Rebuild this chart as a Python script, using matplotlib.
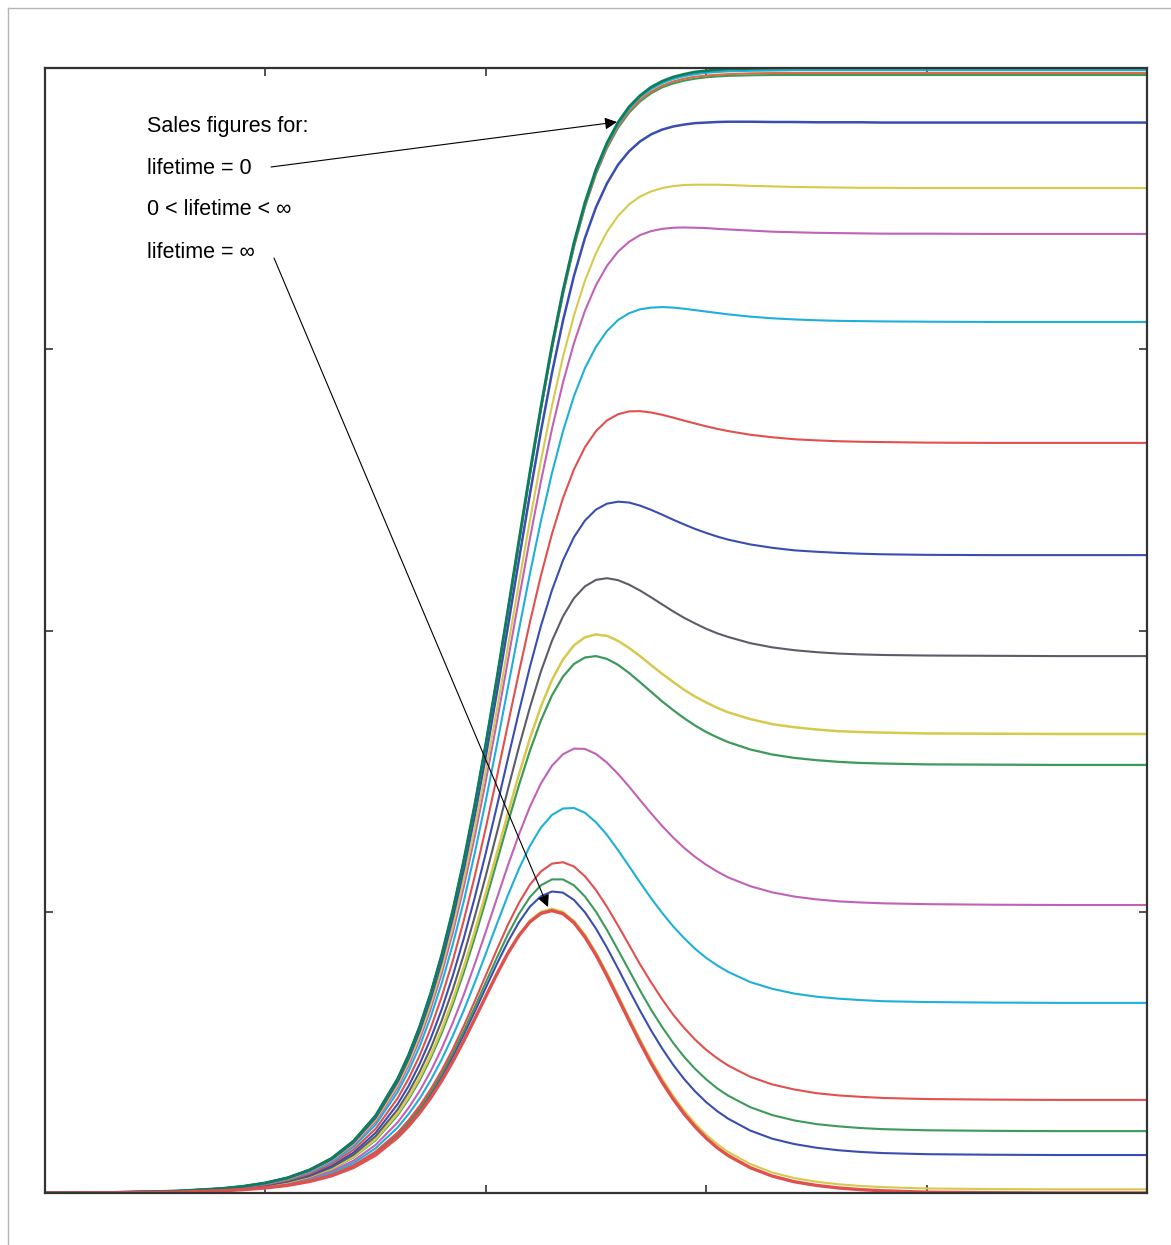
import matplotlib
matplotlib.use("Agg")
import matplotlib.pyplot as plt
from matplotlib.lines import Line2D

# time axis (arbitrary units, no tick labels in the original)
time = [0, 3, 6, 8, 9, 10, 11, 12, 13, 14, 15, 16, 16.5, 17, 17.5, 18, 18.5, 19, 19.5, 20,
        20.5, 21, 21.5, 22, 22.5, 23, 23.5, 24, 24.5, 25, 25.5, 26, 26.5, 27, 27.5, 28, 28.5,
        29, 29.5, 30, 30.5, 31, 32, 33, 34, 35, 36, 37, 38, 40, 43, 46, 50]

# lifetime = infinity (first purchases only)
life_inf = [0.000, 0.001, 0.003, 0.008, 0.012, 0.018, 0.027, 0.041, 0.061, 0.091, 0.135, 0.198, 0.238, 0.285, 0.338, 0.399, 0.467, 0.541,
            0.619, 0.699, 0.778, 0.852, 0.915, 0.964, 0.994, 1.004, 0.993, 0.961, 0.910, 0.846, 0.772, 0.693, 0.613, 0.535, 0.461, 0.394,
            0.334, 0.281, 0.235, 0.195, 0.161, 0.133, 0.090, 0.060, 0.040, 0.027, 0.018, 0.012, 0.008, 0.003, 0.001, 0.000, 0.000]

# 0 < lifetime < infinity, from long to short lifetimes
life_y0 = [0.000, 0.001, 0.003, 0.008, 0.012, 0.018, 0.027, 0.041, 0.061, 0.092, 0.136, 0.199, 0.239, 0.286, 0.340, 0.401, 0.469, 0.543,
           0.622, 0.702, 0.782, 0.856, 0.919, 0.969, 1.000, 1.011, 1.000, 0.968, 0.919, 0.855, 0.782, 0.703, 0.623, 0.546, 0.473, 0.406,
           0.346, 0.293, 0.247, 0.207, 0.174, 0.146, 0.103, 0.073, 0.053, 0.040, 0.031, 0.025, 0.021, 0.016, 0.014, 0.013, 0.013]
life_b1 = [0.000, 0.001, 0.004, 0.008, 0.012, 0.019, 0.028, 0.042, 0.063, 0.095, 0.140, 0.205, 0.247, 0.295, 0.351, 0.414, 0.485, 0.563,
           0.645, 0.730, 0.814, 0.893, 0.962, 1.018, 1.055, 1.072, 1.068, 1.042, 0.998, 0.940, 0.872, 0.798, 0.722, 0.648, 0.578, 0.514,
           0.456, 0.405, 0.361, 0.323, 0.291, 0.264, 0.222, 0.193, 0.174, 0.161, 0.152, 0.146, 0.142, 0.138, 0.136, 0.135, 0.135]
life_g1 = [0.000, 0.001, 0.004, 0.008, 0.013, 0.019, 0.029, 0.043, 0.065, 0.097, 0.143, 0.209, 0.252, 0.301, 0.359, 0.424, 0.497, 0.576,
           0.661, 0.749, 0.836, 0.919, 0.992, 1.052, 1.094, 1.115, 1.115, 1.094, 1.054, 1.000, 0.935, 0.864, 0.792, 0.720, 0.652, 0.590,
           0.534, 0.484, 0.441, 0.404, 0.372, 0.346, 0.305, 0.277, 0.258, 0.245, 0.237, 0.231, 0.227, 0.223, 0.221, 0.220, 0.220]
life_r1 = [0.000, 0.001, 0.004, 0.009, 0.013, 0.019, 0.029, 0.044, 0.066, 0.099, 0.147, 0.215, 0.259, 0.310, 0.369, 0.436, 0.511, 0.594,
           0.682, 0.774, 0.865, 0.953, 1.031, 1.096, 1.143, 1.171, 1.176, 1.161, 1.126, 1.077, 1.017, 0.951, 0.882, 0.813, 0.749, 0.689,
           0.634, 0.587, 0.545, 0.509, 0.479, 0.453, 0.413, 0.386, 0.368, 0.355, 0.347, 0.342, 0.338, 0.334, 0.332, 0.331, 0.331]
life_c1 = [0.000, 0.001, 0.004, 0.009, 0.014, 0.021, 0.032, 0.048, 0.072, 0.107, 0.159, 0.233, 0.281, 0.336, 0.401, 0.475, 0.558, 0.649,
           0.748, 0.851, 0.956, 1.058, 1.152, 1.234, 1.299, 1.344, 1.367, 1.369, 1.352, 1.318, 1.273, 1.219, 1.162, 1.104, 1.048, 0.996,
           0.948, 0.906, 0.868, 0.836, 0.809, 0.786, 0.750, 0.726, 0.709, 0.698, 0.691, 0.686, 0.682, 0.679, 0.677, 0.676, 0.676]
life_m1 = [0.000, 0.001, 0.004, 0.010, 0.015, 0.023, 0.034, 0.051, 0.077, 0.115, 0.171, 0.251, 0.303, 0.363, 0.433, 0.514, 0.605, 0.705,
           0.814, 0.929, 1.047, 1.164, 1.274, 1.373, 1.456, 1.519, 1.560, 1.580, 1.579, 1.561, 1.530, 1.490, 1.445, 1.397, 1.350, 1.305,
           1.264, 1.227, 1.195, 1.167, 1.143, 1.122, 1.091, 1.069, 1.054, 1.044, 1.037, 1.033, 1.030, 1.027, 1.025, 1.024, 1.024]
life_g2 = [0.000, 0.001, 0.005, 0.011, 0.016, 0.025, 0.037, 0.056, 0.085, 0.127, 0.188, 0.277, 0.334, 0.401, 0.480, 0.569, 0.671, 0.785,
           0.909, 1.041, 1.178, 1.316, 1.449, 1.572, 1.680, 1.769, 1.836, 1.881, 1.904, 1.909, 1.899, 1.878, 1.849, 1.816, 1.782, 1.748,
           1.717, 1.688, 1.662, 1.639, 1.620, 1.603, 1.577, 1.559, 1.547, 1.539, 1.533, 1.529, 1.527, 1.524, 1.523, 1.522, 1.522]
life_y2 = [0.000, 0.001, 0.005, 0.011, 0.017, 0.025, 0.038, 0.058, 0.087, 0.129, 0.192, 0.283, 0.341, 0.410, 0.490, 0.582, 0.686, 0.803,
           0.930, 1.066, 1.207, 1.349, 1.487, 1.616, 1.729, 1.824, 1.897, 1.947, 1.976, 1.986, 1.981, 1.963, 1.938, 1.909, 1.877, 1.846,
           1.817, 1.789, 1.765, 1.744, 1.725, 1.709, 1.685, 1.667, 1.656, 1.648, 1.642, 1.639, 1.637, 1.634, 1.633, 1.632, 1.632]
life_k2 = [0.000, 0.001, 0.005, 0.012, 0.018, 0.027, 0.040, 0.060, 0.091, 0.136, 0.202, 0.297, 0.359, 0.431, 0.515, 0.613, 0.723, 0.847,
           0.983, 1.128, 1.280, 1.434, 1.585, 1.726, 1.854, 1.963, 2.050, 2.115, 2.157, 2.180, 2.186, 2.179, 2.163, 2.142, 2.118, 2.093,
           2.068, 2.045, 2.025, 2.006, 1.990, 1.977, 1.955, 1.940, 1.930, 1.923, 1.918, 1.915, 1.913, 1.911, 1.910, 1.909, 1.909]
life_b2 = [0.000, 0.002, 0.005, 0.012, 0.019, 0.028, 0.043, 0.064, 0.096, 0.144, 0.214, 0.316, 0.381, 0.459, 0.549, 0.653, 0.772, 0.905,
           1.051, 1.209, 1.374, 1.543, 1.710, 1.870, 2.016, 2.143, 2.249, 2.332, 2.391, 2.430, 2.451, 2.458, 2.455, 2.444, 2.429, 2.412,
           2.394, 2.377, 2.361, 2.347, 2.334, 2.323, 2.306, 2.294, 2.285, 2.280, 2.276, 2.273, 2.271, 2.269, 2.268, 2.268, 2.268]
life_r2 = [0.000, 0.002, 0.006, 0.013, 0.020, 0.030, 0.045, 0.068, 0.103, 0.154, 0.228, 0.337, 0.407, 0.489, 0.586, 0.698, 0.825, 0.969,
           1.127, 1.298, 1.479, 1.665, 1.850, 2.029, 2.195, 2.343, 2.470, 2.573, 2.652, 2.709, 2.747, 2.769, 2.779, 2.780, 2.775, 2.767,
           2.757, 2.746, 2.736, 2.726, 2.717, 2.709, 2.696, 2.687, 2.680, 2.676, 2.673, 2.671, 2.670, 2.668, 2.667, 2.667, 2.667]
life_c2 = [0.001, 0.002, 0.006, 0.014, 0.021, 0.032, 0.048, 0.073, 0.109, 0.164, 0.243, 0.359, 0.434, 0.522, 0.626, 0.746, 0.883, 1.037,
           1.209, 1.395, 1.592, 1.796, 2.001, 2.201, 2.389, 2.559, 2.708, 2.833, 2.933, 3.009, 3.065, 3.104, 3.128, 3.142, 3.148, 3.150,
           3.148, 3.144, 3.139, 3.134, 3.129, 3.124, 3.116, 3.110, 3.106, 3.103, 3.101, 3.100, 3.099, 3.098, 3.097, 3.097, 3.097]
life_m2 = [0.001, 0.002, 0.006, 0.015, 0.022, 0.033, 0.050, 0.076, 0.114, 0.171, 0.254, 0.375, 0.454, 0.546, 0.655, 0.781, 0.925, 1.088,
           1.268, 1.465, 1.674, 1.892, 2.111, 2.326, 2.530, 2.716, 2.881, 3.022, 3.137, 3.228, 3.297, 3.347, 3.382, 3.406, 3.420, 3.428,
           3.432, 3.433, 3.432, 3.431, 3.428, 3.426, 3.422, 3.418, 3.416, 3.414, 3.413, 3.412, 3.411, 3.411, 3.410, 3.410, 3.410]
life_y3 = [0.001, 0.002, 0.006, 0.015, 0.023, 0.034, 0.051, 0.078, 0.117, 0.175, 0.260, 0.384, 0.464, 0.559, 0.670, 0.799, 0.947, 1.114,
           1.299, 1.502, 1.717, 1.941, 2.168, 2.391, 2.603, 2.798, 2.972, 3.120, 3.244, 3.342, 3.418, 3.474, 3.515, 3.543, 3.561, 3.573,
           3.580, 3.584, 3.585, 3.585, 3.585, 3.584, 3.581, 3.579, 3.577, 3.576, 3.575, 3.574, 3.574, 3.573, 3.573, 3.573, 3.573]
life_b3 = [0.001, 0.002, 0.007, 0.015, 0.023, 0.035, 0.053, 0.080, 0.120, 0.180, 0.268, 0.396, 0.479, 0.577, 0.692, 0.825, 0.978, 1.151,
           1.344, 1.554, 1.778, 2.012, 2.250, 2.484, 2.708, 2.915, 3.101, 3.261, 3.396, 3.505, 3.590, 3.656, 3.704, 3.739, 3.764, 3.781,
           3.792, 3.799, 3.804, 3.806, 3.808, 3.809, 3.809, 3.808, 3.808, 3.807, 3.807, 3.807, 3.806, 3.806, 3.806, 3.806, 3.806]
life_g4 = [0.001, 0.002, 0.007, 0.016, 0.024, 0.036, 0.054, 0.082, 0.123, 0.184, 0.274, 0.405, 0.489, 0.590, 0.707, 0.844, 1.001, 1.178,
           1.376, 1.592, 1.823, 2.064, 2.309, 2.552, 2.784, 3.000, 3.194, 3.363, 3.506, 3.623, 3.715, 3.787, 3.841, 3.881, 3.910, 3.931,
           3.945, 3.955, 3.962, 3.967, 3.970, 3.972, 3.974, 3.975, 3.975, 3.975, 3.975, 3.975, 3.975, 3.975, 3.975, 3.975, 3.975]
life_r4 = [0.001, 0.002, 0.007, 0.016, 0.024, 0.036, 0.054, 0.082, 0.123, 0.184, 0.274, 0.405, 0.490, 0.590, 0.708, 0.845, 1.002, 1.179,
           1.377, 1.593, 1.825, 2.066, 2.312, 2.554, 2.787, 3.004, 3.198, 3.368, 3.511, 3.628, 3.721, 3.793, 3.847, 3.887, 3.916, 3.937,
           3.952, 3.962, 3.969, 3.973, 3.976, 3.978, 3.981, 3.982, 3.982, 3.982, 3.982, 3.982, 3.982, 3.982, 3.982, 3.982, 3.982]
life_c4 = [0.001, 0.002, 0.007, 0.016, 0.024, 0.036, 0.054, 0.082, 0.123, 0.184, 0.275, 0.405, 0.490, 0.591, 0.709, 0.846, 1.003, 1.181,
           1.379, 1.596, 1.827, 2.069, 2.315, 2.558, 2.792, 3.009, 3.204, 3.374, 3.517, 3.635, 3.728, 3.800, 3.855, 3.896, 3.925, 3.946,
           3.961, 3.971, 3.978, 3.983, 3.986, 3.988, 3.990, 3.991, 3.992, 3.992, 3.992, 3.992, 3.992, 3.992, 3.992, 3.992, 3.992]

# lifetime = 0
life_0 = [0.001, 0.002, 0.007, 0.016, 0.024, 0.036, 0.054, 0.082, 0.123, 0.185, 0.275, 0.406, 0.491, 0.592, 0.710, 0.847, 1.004, 1.182,
          1.381, 1.597, 1.829, 2.072, 2.318, 2.562, 2.795, 3.013, 3.208, 3.379, 3.522, 3.640, 3.734, 3.807, 3.862, 3.902, 3.932, 3.953,
          3.968, 3.978, 3.986, 3.990, 3.994, 3.996, 3.998, 3.999, 4.000, 4.000, 4.000, 4.000, 4.000, 4.000, 4.000, 4.000, 4.000]

BLUE, GREEN, RED, CYAN = "#3a4db0", "#3c9a5a", "#e0504e", "#1eb0d8"
MAGENTA, YELLOW, GRAY, TEAL, ORANGE = "#c062b6", "#d6c94c", "#5a5d68", "#0d7d5d", "#e06a40"

curves = [
    (life_y0, YELLOW, 1.5), (life_b1, BLUE, 1.5), (life_g1, GREEN, 1.5), (life_r1, RED, 1.5),
    (life_c1, CYAN, 1.5), (life_m1, MAGENTA, 1.5), (life_g2, GREEN, 1.6), (life_y2, YELLOW, 1.8),
    (life_k2, GRAY, 1.5), (life_b2, BLUE, 1.5), (life_r2, RED, 1.5), (life_c2, CYAN, 1.5),
    (life_m2, MAGENTA, 1.5), (life_y3, YELLOW, 1.5), (life_b3, BLUE, 1.8), (life_g4, GREEN, 1.5),
    (life_r4, ORANGE, 1.5), (life_c4, CYAN, 1.5), (life_0, TEAL, 2.0), (life_inf, RED, 2.4),
]

fig = plt.figure(figsize=(11.71, 12.45), dpi=100)
ax = fig.add_axes([45 / 1171, 52 / 1245, 1102 / 1171, 1125 / 1245])

for ys, col, lw in curves:
    ax.plot(time, ys, color=col, lw=lw, solid_capstyle="butt")

ax.set_xlim(0, 50)
ax.set_ylim(0, 4)
ax.set_xticks([10, 20, 30, 40])
ax.set_yticks([1, 2, 3])
ax.set_xticklabels([])
ax.set_yticklabels([])
ax.tick_params(direction="in", length=6, width=1.2, color="#333333",
               top=True, right=True, bottom=True, left=True)
for sp in ax.spines.values():
    sp.set_linewidth(1.6)
    sp.set_color("#333333")
    sp.set_zorder(5)

fnt = dict(family=["Liberation Sans", "DejaVu Sans"], fontsize=15.5, va="center", ha="left",
           transform=ax.transAxes)
ax.text(0.0926, 0.9484, "Sales figures for:", **fnt)
ax.text(0.0926, 0.9111, "lifetime = 0", **fnt)
ax.text(0.0926, 0.8738, "0 < lifetime < \u221e", **fnt)
ax.text(0.0926, 0.8356, "lifetime = \u221e", **fnt)

arrow = dict(arrowstyle="-|>", color="k", lw=0.8, mutation_scale=18, shrinkA=0, shrinkB=0)
ax.annotate("", xy=(25.95, 3.808), xycoords="data", xytext=(0.2051, 0.912),
            textcoords="axes fraction", arrowprops=arrow)
ax.annotate("", xy=(22.82, 1.017), xycoords="data", xytext=(0.2078, 0.8311),
            textcoords="axes fraction", arrowprops=arrow)

# light outer frame of the original figure
fig.add_artist(Line2D([8 / 1171, 1], [1 - 8 / 1245, 1 - 8 / 1245], transform=fig.transFigure,
                      color="#b5b5b5", lw=1))
fig.add_artist(Line2D([8 / 1171, 8 / 1171], [0, 1 - 8 / 1245], transform=fig.transFigure,
                      color="#b5b5b5", lw=1))

fig.savefig("out.png", dpi=100)
